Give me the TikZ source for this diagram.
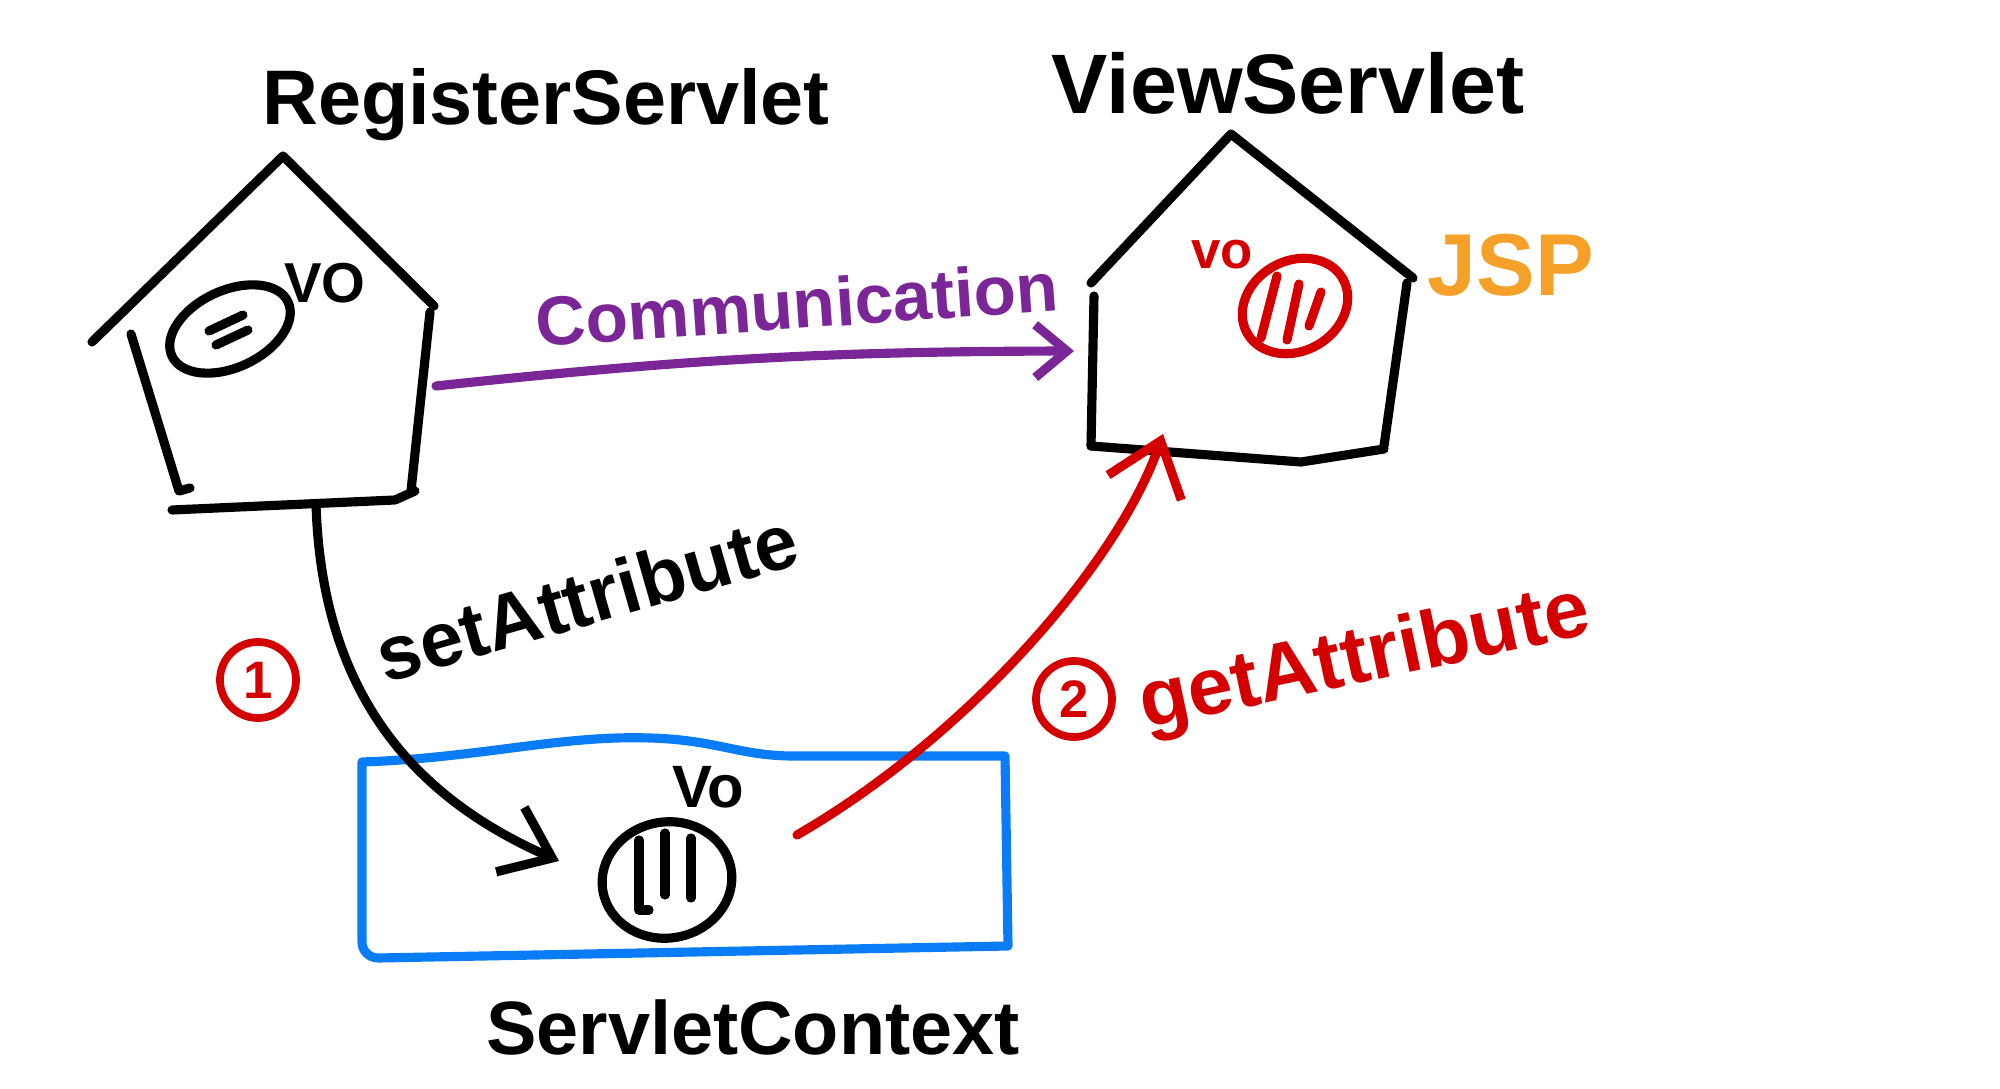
\documentclass[tikz,border=0pt]{standalone}
\usepackage{fontspec}
\setmainfont{Liberation Sans}
\usetikzlibrary{arrows.meta,shapes.geometric}
\definecolor{inkpurple}{RGB}{122,38,150}
\definecolor{inkred}{RGB}{212,0,0}
\definecolor{inkblue}{RGB}{10,124,245}
\definecolor{inkorange}{RGB}{245,160,40}
\tikzset{
  ink/.style={line width=2.6pt, line cap=round, line join=round},
  hand/.style={font=\bfseries\fontsize{#1}{#1}\selectfont, inner sep=0pt},
  objshape/.style={draw, ellipse, ink, inner sep=0pt},
  stepnum/.style={draw=inkred, circle, line width=2.2pt, text=inkred, minimum size=0.76cm,
    inner sep=0pt, font=\bfseries\fontsize{15}{15}\selectfont},
}
\begin{document}
\begin{tikzpicture}[x=0.01cm,y=-0.01cm]
\useasboundingbox (0,0) rectangle (2000,1089);

% RegisterServlet house
\draw[ink] (92,342) -- (283,156) -- (434,306);
\draw[ink] (131,334) -- (179,491) -- (190,488);
\draw[ink] (430,312) -- (411,491);
\draw[ink] (172,510) -- (395,500) -- (415,491);
\node[hand=22] (regtitle) at (546,105) {RegisterServlet};
\node[objshape, minimum width=1.28cm, minimum height=0.77cm, rotate=25] (regvo) at (230,329) {};
\draw[ink] ([shift={(-21,2)}]regvo.center) -- ++(34,-16);
\draw[ink] ([shift={(-14,16)}]regvo.center) -- ++(32,-15);
\node[hand=16] (regvolabel) at (325,283) {VO};

% ViewServlet house
\draw[ink] (1091,283) -- (1231,134) -- (1413,278);
\draw[ink] (1094,296) -- (1091,446);
\draw[ink] (1407,283) -- (1384,446);
\draw[ink] (1091,446) -- (1301,462) -- (1384,449);
\node[hand=24] (viewtitle) at (1288,83) {ViewServlet};
\node[objshape, draw=inkred, minimum width=1.1cm, minimum height=0.9cm, rotate=30] (viewvo) at (1295,306) {};
\draw[ink, inkred] ([shift={(-18,-30)}]viewvo.center) -- ++(-16,62);
\draw[ink, inkred] ([shift={(4,-22)}]viewvo.center) -- ++(-12,56);
\draw[ink, inkred] ([shift={(26,-14)}]viewvo.center) -- ++(-12,34);
\node[hand=15, text=inkred] (viewvolabel) at (1222,255) {vo};
\node[hand=25, text=inkorange] (jsplabel) at (1511,265) {JSP};

% ServletContext
\draw[ink, inkblue] (362,762) .. controls (480,758) and (560,735) .. (650,738)
  .. controls (720,740) and (740,757) .. (800,756) -- (1005,756) -- (1008,946)
  -- (378,958) to[out=180,in=270] (362,942) -- cycle;
\node[hand=21.5] (ctxtitle) at (753,1027) {ServletContext};
\node[objshape, minimum width=1.3cm, minimum height=1.16cm, rotate=10] (ctxvo) at (667,880) {};
\draw[ink] ([shift={(-28,-40)}]ctxvo.center) -- ++(0,70) -- ++(10,0);
\draw[ink] ([shift={(-2,-47)}]ctxvo.center) -- ++(0,62);
\draw[ink] ([shift={(24,-42)}]ctxvo.center) -- ++(0,60);
\node[hand=17] (ctxvolabel) at (708,787) {Vo};

% connectors
\coordinate (regout) at (436,386);
\coordinate (viewin) at (1074,351);
\coordinate (regbase) at (316,504);
\coordinate (ctxin) at (559,861);
\coordinate (ctxout) at (797,835);
\coordinate (viewbase) at (1163,434);

\draw[ink, inkpurple, -{Straight Barb[length=9pt,width=15pt]}] (regout) to[bend left=3] (viewin);
\node[hand=19.7, text=inkpurple, rotate=4] (commlabel) at (797,304) {Communication};

\draw[ink, -{Straight Barb[length=13pt,width=20pt]}] (regbase)
  .. controls (322,700) and (420,800) .. (ctxin);
\node[hand=22, rotate=16] (setlabel) at (587,597) {setAttribute};
\node[stepnum] (stepone) at (258,680) {1};

\draw[ink, inkred, -{Straight Barb[length=14pt,width=22pt]}] (ctxout)
  .. controls (970,735) and (1120,560) .. (viewbase);
\node[stepnum] (steptwo) at (1074,699) {2};
\node[hand=23, text=inkred, rotate=12] (getlabel) at (1365,661) {getAttribute};
\end{tikzpicture}
\end{document}
